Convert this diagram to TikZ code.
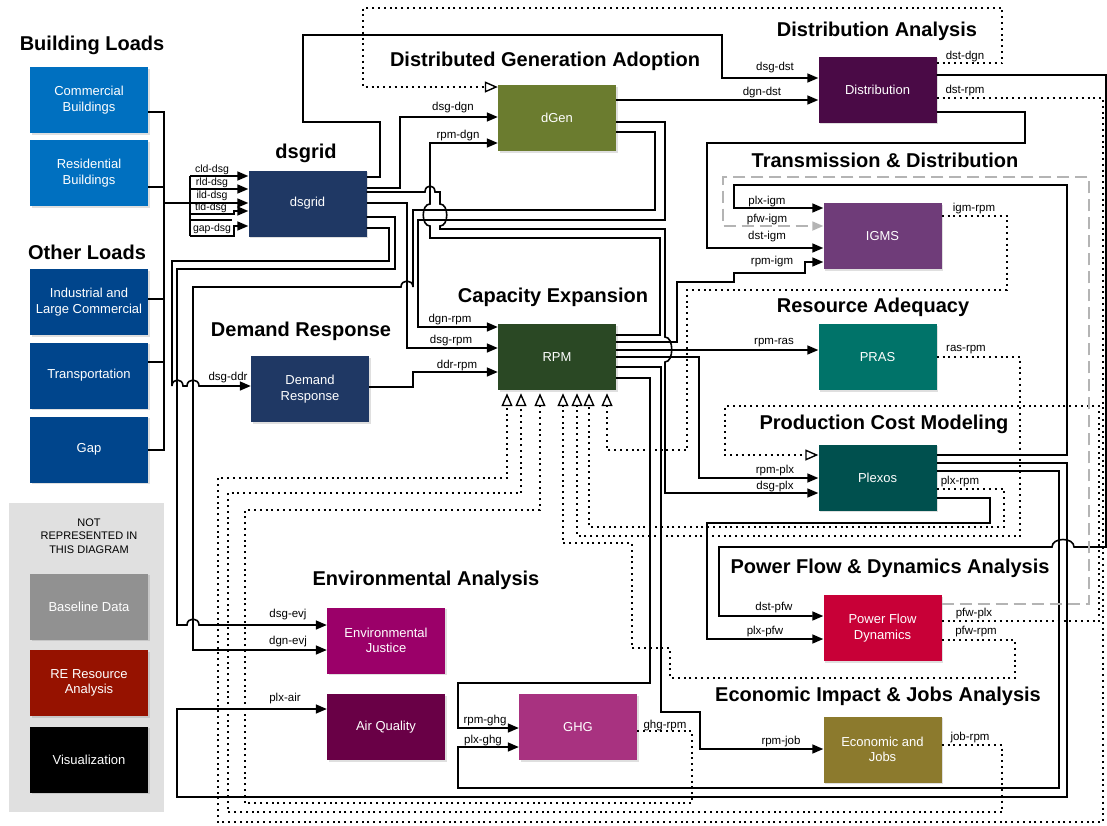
\documentclass[tikz,border=0pt]{standalone}
\usepackage{fontspec}
\setmainfont{Liberation Sans}
\usetikzlibrary{arrows.meta,shadows}
\definecolor{cBlueA}{RGB}{0,112,192}
\definecolor{cBlueB}{RGB}{0,69,140}
\definecolor{cNavy}{RGB}{31,56,100}
\definecolor{cOlive}{RGB}{107,124,47}
\definecolor{cDst}{RGB}{74,10,70}
\definecolor{cIgm}{RGB}{111,60,121}
\definecolor{cPras}{RGB}{0,115,105}
\definecolor{cPlx}{RGB}{0,80,78}
\definecolor{cRpm}{RGB}{42,72,36}
\definecolor{cPfw}{RGB}{200,0,55}
\definecolor{cJob}{RGB}{140,122,45}
\definecolor{cEj}{RGB}{155,0,105}
\definecolor{cAq}{RGB}{105,0,70}
\definecolor{cGhg}{RGB}{168,50,128}
\definecolor{cBase}{RGB}{145,145,145}
\definecolor{cRe}{RGB}{150,18,0}
\definecolor{cPanel}{RGB}{224,224,224}
\definecolor{cGrayLn}{RGB}{180,180,180}
\tikzset{
  box/.style={fill=#1, text=white, minimum width=118pt, minimum height=66pt, inner sep=2pt, align=center,
    font=\fontsize{13}{15.5}\selectfont, drop shadow={shadow xshift=1.5pt,shadow yshift=-1.5pt,opacity=0.25}},
  ttl/.style={font=\fontsize{20}{24}\selectfont\bfseries, inner sep=0pt},
  lbl/.style={font=\fontsize{11.5}{13}\selectfont, inner sep=0pt},
  ln/.style={line width=1.6pt},
  arr/.style={ln, -{Triangle[length=11pt,width=9pt]}},
  dl/.style={line width=1.7pt, dash pattern=on 2pt off 3.8pt},
  darr/.style={dl, -{Triangle[fill=white,length=13pt,width=11pt,line width=1.4pt]}},
  garr/.style={line width=1.7pt, cGrayLn, dash pattern=on 12pt off 6pt, -{Triangle[length=11pt,width=9pt]}},
}
\begin{document}
\begin{tikzpicture}[x=1pt,y=-1pt]
\fill[white] (0,0) rectangle (1107,825);
\useasboundingbox (0,0) rectangle (1107,825);

% ---------- panel ----------
\fill[cPanel] (9,503) rectangle (164,812);
\node[align=center, font=\fontsize{11}{13.5}\selectfont] (nr) at (89,536) {NOT\\REPRESENTED IN\\THIS DIAGRAM};

% ---------- titles ----------
\node[ttl] (tbl) at (92,45) {Building Loads};
\node[ttl] (tol) at (87,252) {Other Loads};
\node[ttl] (tdsg) at (306,153) {dsgrid};
\node[ttl] (tdga) at (545,61) {Distributed Generation Adoption};
\node[ttl] (tda) at (877,31) {Distribution Analysis};
\node[ttl] (ttd) at (885,160) {Transmission \& Distribution};
\node[ttl] (tra) at (873,307) {Resource Adequacy};
\node[ttl] (tpcm) at (884,424) {Production Cost Modeling};
\node[ttl] (tce) at (553,297) {Capacity Expansion};
\node[ttl] (tdr) at (301,331) {Demand Response};
\node[ttl] (tpf) at (890,568) {Power Flow \& Dynamics Analysis};
\node[ttl] (tei) at (878,696) {Economic Impact \& Jobs Analysis};
\node[ttl] (tea) at (426,580) {Environmental Analysis};

% ---------- boxes ----------
\node[box=cBlueA] (com) at (89,100) {Commercial\\Buildings};
\node[box=cBlueA] (res) at (89,173) {Residential\\Buildings};
\node[box=cBlueB] (ind) at (89,302) {Industrial and\\Large Commercial};
\node[box=cBlueB] (trn) at (89,375.5) {Transportation};
\node[box=cBlueB] (gapb) at (89,449.5) {Gap};
\node[box=cBase] (base) at (89,606.5) {Baseline Data};
\node[box=cRe] (reres) at (89,683) {RE Resource\\Analysis};
\node[box=black] (vis) at (89,759.5) {Visualization};
\node[box=cNavy] (dsgrid) at (307.5,203.5) {dsgrid};
\node[box=cOlive] (dgen) at (557,118) {dGen};
\node[box=cDst] (dst) at (877.5,89.5) {Distribution};
\node[box=cIgm] (igm) at (882.5,236) {IGMS};
\node[box=cPras] (pras) at (877.5,357) {PRAS};
\node[box=cPlx] (plx) at (877.5,477.5) {Plexos};
\node[box=cRpm] (rpm) at (557,357) {RPM};
\node[box=cNavy] (dr) at (310,389) {Demand\\Response};
\node[box=cPfw] (pfw) at (882.5,628) {Power Flow\\Dynamics};
\node[box=cJob] (job) at (882.5,749.5) {Economic and\\Jobs};
\node[box=cEj] (ej) at (386,640.5) {Environmental\\Justice};
\node[box=cAq] (aq) at (386,727) {Air Quality};
\node[box=cGhg] (ghg) at (578,727) {GHG};

% ---------- loads -> dsgrid ----------
\draw[ln] (com.east|-0,112) -- (164,112) -- (164,450) -- (gapb.east|-0,450);
\draw[ln] (res.east|-0,187) -- (164,187);
\draw[ln] (ind.east|-0,299) -- (164,299);
\draw[ln] (trn.east|-0,362) -- (164,362);
\draw[ln] (164,203) -- (190,203);
\draw[ln] (190,176) -- (190,236);
\draw[ln] (190,220) -- (232,220);
\draw[arr] (190,176) -- (dsgrid.west|-0,176);
\draw[arr] (190,189) -- (dsgrid.west|-0,189);
\draw[arr] (190,203) -- (dsgrid.west|-0,203);
\draw[arr] (190,214) -- (234,214) -- (234,211) -- (dsgrid.west|-0,211);
\draw[arr] (190,236) -- (234,236) -- (234,226) -- (dsgrid.west|-0,226);
\node[lbl, font=\fontsize{10.5}{12}\selectfont] (l1) at (212,170) {cld-dsg};
\node[lbl, font=\fontsize{10.5}{12}\selectfont] (l2) at (212,182.5) {rld-dsg};
\node[lbl, font=\fontsize{10.5}{12}\selectfont] (l3) at (212,196) {ild-dsg};
\node[lbl, font=\fontsize{10.5}{12}\selectfont] (l4) at (211,208) {tld-dsg};
\node[lbl, font=\fontsize{10.5}{12}\selectfont] (l5) at (212,228.5) {gap-dsg};

% ---------- dsgrid outputs ----------
\draw[arr] (dsgrid.east|-0,177) -- (380,177) -- (380,122) -- (303,122) -- (303,35) -- (722,35) -- (722,78) -- (dst.west|-0,78);
\draw[arr] (dsgrid.east|-0,188) -- (400,188) -- (400,117) -- (dgen.west|-0,117);
\draw[arr] (dsgrid.east|-0,192) -- (425,192) .. controls (425,184) and (435,184) .. (435,192) -- (440,192) -- (440,204)
   .. controls (449,204) and (449,226) .. (440,226) -- (440,229) -- (665,229) -- (665,337)
   .. controls (674,337) and (674,362) .. (665,362) -- (665,493) -- (plx.west|-0,493);
\draw[arr] (dsgrid.east|-0,203) -- (407,203) -- (407,348) -- (rpm.west|-0,348);
\draw[arr] (dsgrid.east|-0,217) -- (395,217) -- (395,269) -- (177,269) -- (177,625) -- (187,625)
   .. controls (187,617) and (199,617) .. (199,625) -- (ej.west|-0,625);
\draw[arr] (dsgrid.east|-0,228) -- (389,228) -- (389,261) -- (172,261) -- (172,386)
   .. controls (172,378) and (183,378) .. (183,386) -- (187,386)
   .. controls (187,378) and (199,378) .. (199,386) -- (dr.west|-0,386);

% ---------- dGen outputs ----------
\draw[arr] (dgen.east|-0,100) -- (dst.west|-0,100);
\draw[arr] (dgen.east|-0,122) -- (665,122) -- (665,220) -- (418,220) -- (418,327) -- (rpm.west|-0,327);
\draw[arr] (dgen.east|-0,132) -- (655,132) -- (655,210) -- (413,210) -- (413,287)
   .. controls (413,279) and (401,279) .. (401,287) -- (193,287) -- (193,650) -- (ej.west|-0,650);

% ---------- DR ----------
\draw[arr] (dr.east|-0,387) -- (413,387) -- (413,372) -- (rpm.west|-0,372);

% ---------- RPM outputs ----------
\draw[arr] (rpm.east|-0,335) -- (660,335) -- (660,238) -- (430,238) -- (430,226)
   .. controls (421,226) and (421,204) .. (430,204) -- (430,143) -- (dgen.west|-0,143);
\draw[arr] (rpm.east|-0,342) -- (677,342) -- (677,282) -- (734,282) -- (734,273) -- (805,273) -- (805,262) -- (igm.west|-0,262);
\draw[arr] (rpm.east|-0,350) -- (pras.west|-0,350);
\draw[arr] (rpm.east|-0,357) -- (699,357) -- (699,478) -- (plx.west|-0,478);
\draw[arr] (rpm.east|-0,367) -- (661,367) -- (661,712) -- (700,712) -- (700,749) -- (job.west|-0,749);
\draw[arr] (rpm.east|-0,378) -- (650,378) -- (650,683) -- (458,683) -- (458,728) -- (ghg.west|-0,728);

% ---------- Distribution outputs ----------
\draw[arr] (dst.east|-0,75) -- (1106,75) -- (1106,547) -- (1074,547)
   .. controls (1074,537) and (1052,537) .. (1052,547) -- (719,547) -- (719,616) -- (pfw.west|-0,616);
\draw[arr] (dst.east|-0,112) -- (1025,112) -- (1025,143) -- (707,143) -- (707,248) -- (igm.west|-0,248);

% ---------- Plexos outputs ----------
\draw[arr] (plx.east|-0,455) -- (1067,455) -- (1067,185) -- (734,185) -- (734,208) -- (igm.west|-0,208);
\draw[arr] (plx.east|-0,463) -- (1067,463) -- (1067,797) -- (177,797) -- (177,709) -- (aq.west|-0,709);
\draw[arr] (plx.east|-0,471) -- (1059,471) -- (1059,788) -- (458,788) -- (458,747) -- (ghg.west|-0,747);
\draw[arr] (plx.east|-0,498) -- (990,498) -- (990,523) -- (707,523) -- (707,639) -- (pfw.west|-0,639);

% ---------- dotted feedback ----------
\draw[darr] (dst.east|-0,63) -- (1002,63) -- (1002,8) -- (363,8) -- (363,87) -- (dgen.west|-0,87);
\draw[darr, shorten >=3pt] (dst.east|-0,98) -- (1103,98) -- (1103,822) -- (218,822) -- (218,478) -- (507,478) -- (rpm.south-|507,0);
\draw[darr, shorten >=3pt] (job.east|-0,745) -- (1002,745) -- (1002,812) -- (228,812) -- (228,493) -- (521,493) -- (rpm.south-|521,0);
\draw[darr, shorten >=3pt] (ghg.east|-0,731) -- (692,731) -- (692,803) -- (245,803) -- (245,510) -- (540,510) -- (rpm.south-|540,0);
\draw[darr, shorten >=3pt] (pfw.east|-0,640) -- (1015,640) -- (1015,678) -- (670,678) -- (670,648) -- (632,648) -- (632,543) -- (563,543) -- (rpm.south-|563,0);
\draw[darr, shorten >=3pt] (pras.east|-0,357) -- (1020,357) -- (1020,536) -- (577,536) -- (rpm.south-|577,0);
\draw[darr, shorten >=3pt] (plx.east|-0,489) -- (1004,489) -- (1004,527) -- (589,527) -- (rpm.south-|589,0);
\draw[darr, shorten >=3pt] (igm.east|-0,216) -- (1007,216) -- (1007,290) -- (687,290) -- (687,450) -- (607,450) -- (rpm.south-|607,0);
\draw[darr] (pfw.east|-0,621) -- (1099,621) -- (1099,406) -- (725,406) -- (725,455) -- (plx.west|-0,455);
\draw[garr] (pfw.east|-0,604) -- (1089,604) -- (1089,177) -- (723,177) -- (723,226) -- (igm.west|-0,226);

% ---------- labels ----------
\node[lbl] (a1) at (775,68) {dsg-dst};
\node[lbl] (a2) at (762,93) {dgn-dst};
\node[lbl] (a3) at (965,57) {dst-dgn};
\node[lbl] (a4) at (965,91) {dst-rpm};
\node[lbl] (a5) at (767,202) {plx-igm};
\node[lbl] (a6) at (767,220) {pfw-igm};
\node[lbl] (a7) at (767,237) {dst-igm};
\node[lbl] (a8) at (772,262) {rpm-igm};
\node[lbl] (a9) at (974,209) {igm-rpm};
\node[lbl] (b1) at (453,108) {dsg-dgn};
\node[lbl] (b2) at (458,136) {rpm-dgn};
\node[lbl] (b3) at (450,320) {dgn-rpm};
\node[lbl] (b4) at (451,341) {dsg-rpm};
\node[lbl] (b5) at (457,366) {ddr-rpm};
\node[lbl] (b6) at (774,343) {rpm-ras};
\node[lbl] (b7) at (966,350) {ras-rpm};
\node[lbl] (b8) at (775,471) {rpm-plx};
\node[lbl] (b9) at (775,487) {dsg-plx};
\node[lbl] (c1) at (960,482) {plx-rpm};
\node[lbl] (c2) at (228,378) {dsg-ddr};
\node[lbl] (c3) at (288,615) {dsg-evj};
\node[lbl] (c4) at (288,642) {dgn-evj};
\node[lbl] (c5) at (285,699) {plx-air};
\node[lbl] (c6) at (485,721) {rpm-ghg};
\node[lbl] (c7) at (483,741) {plx-ghg};
\node[lbl] (c8) at (665,726) {ghg-rpm};
\node[lbl] (c9) at (774,608) {dst-pfw};
\node[lbl] (d1) at (765,632) {plx-pfw};
\node[lbl] (d2) at (974,614) {pfw-plx};
\node[lbl] (d3) at (976,632) {pfw-rpm};
\node[lbl] (d4) at (781,742) {rpm-job};
\node[lbl] (d5) at (970,738) {job-rpm};
\end{tikzpicture}
\end{document}
